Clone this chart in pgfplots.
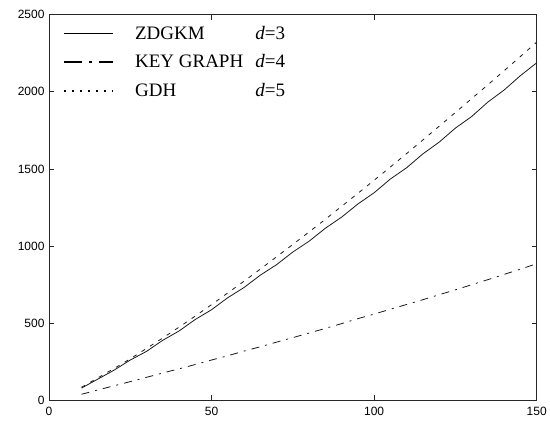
\documentclass[border=0pt]{standalone}
\usepackage{pgfplots}
\pgfplotsset{compat=1.18}
\usepackage{fontspec}
\setmainfont{Liberation Serif}
\newfontfamily\tickfont{Liberation Sans}
\begin{document}
\begin{tikzpicture}
\begin{axis}[
  name=ax,
  scale only axis,
  width=488bp, height=386bp,
  xmin=0, xmax=150, ymin=0, ymax=2500,
  xtick={0,50,100,150}, ytick={0,500,1000,1500,2000,2500},
  tick align=inside,
  major tick length=5bp,
  axis line style={black!85, line width=0.8bp},
  every tick/.style={black!85, line width=0.8bp},
  tick label style={font=\tickfont\fontsize{12bp}{14bp}\selectfont, /pgf/number format/assume math mode=true},
  /pgf/number format/1000 sep={},
  yticklabel style={xshift=-1bp},
  xticklabel style={yshift=-3bp},
  legend style={at={(axis description cs:0,1)}, anchor=north west, xshift=14bp, yshift=-11bp,
    draw=none, fill=none, inner sep=0pt, row sep=14bp,
    font=\fontsize{19bp}{23bp}\selectfont,
    nodes={inner sep=0pt},
    /tikz/every odd column/.append style={column sep=21bp}},
  legend cell align=left,
  legend image code/.code={\draw[#1] (0bp,0bp) -- (49bp,0bp);},
]
\addplot[black!90, line width=0.8bp, forget plot] coordinates {
(10,80) (15,138) (20,196) (25,262) (30,318) (35,390) (40,450) (45,525) (50,588)
(55,666) (60,732) (65,812) (70,880) (75,962) (80,1032) (85,1116) (90,1188)
(95,1273) (100,1346) (105,1435) (110,1508) (115,1598) (120,1674) (125,1765)
(130,1840) (135,1934) (140,2012) (145,2105) (150,2188)};
\addplot[black!90, line width=0.8bp, dash pattern=on 8bp off 6bp on 2bp off 6bp, forget plot] coordinates {
(10,40) (15,68) (20,95) (25,122) (30,150) (35,178) (40,205) (45,233) (50,262)
(55,290) (60,320) (65,348) (70,378) (75,407) (80,437) (85,467) (90,498)
(95,530) (100,560) (105,591) (110,622) (115,653) (120,685) (125,717)
(130,750) (135,783) (140,817) (145,851) (150,886)};
\addplot[black!90, line width=0.8bp, dash pattern=on 4bp off 6bp, forget plot] coordinates {
(10,85) (15,146) (20,207) (25,270) (30,337) (35,405) (40,475) (45,547) (50,621)
(55,697) (60,773) (65,851) (70,931) (75,1011) (80,1092) (85,1174) (90,1258)
(95,1342) (100,1427) (105,1513) (110,1600) (115,1688) (120,1777) (125,1866)
(130,1956) (135,2046) (140,2137) (145,2229) (150,2322)};
\addlegendimage{black, line width=0.9bp}
\addlegendentry{\makebox[150bp][l]{ZDGKM\hfill\textit{d}=3}}
\addlegendimage{black, line width=2bp, dash pattern=on 18bp off 7bp on 2.5bp off 7bp}
\addlegendentry{\makebox[150bp][l]{KEY GRAPH\hfill\textit{d}=4}}
\addlegendimage{black, line width=2bp, dash pattern=on 2bp off 6bp}
\addlegendentry{\makebox[150bp][l]{GDH\hfill\textit{d}=5}}
\end{axis}
\path ([xshift=-49bp,yshift=-22bp]ax.south west) rectangle ([xshift=13bp,yshift=14.7bp]ax.north east);
\end{tikzpicture}
\end{document}
